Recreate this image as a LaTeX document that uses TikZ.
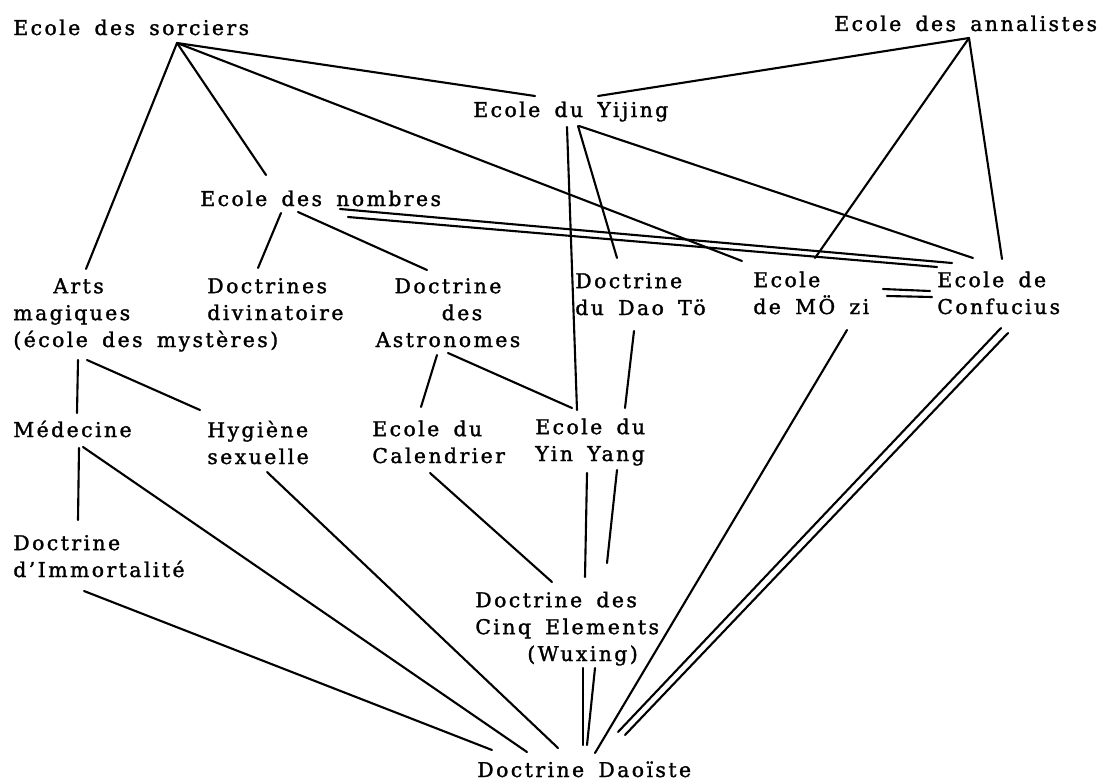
\documentclass[tikz,border=0pt]{standalone}
\usepackage{fontspec}
\setmainfont{DejaVu Serif}[LetterSpace=12, WordSpace=1.6, FakeBold=1.5]
\tikzset{
  school/.style={anchor=base west, inner sep=0pt, align=left, font=\fontsize{11.6}{15.3}\selectfont},
  link/.style={line width=1.2pt, line cap=round},
}
\begin{document}
\begin{tikzpicture}[x=0.02cm,y=-0.02cm]
\useasboundingbox (0,0) rectangle (1098,781);
% the schools and doctrines (placed at the baseline of their last line)
\node[school] (sorciers) at (13,35) {Ecole des sorciers};
\node[school] (annalistes) at (834,31) {Ecole des annalistes};
\node[school] (yijing) at (473,117) {Ecole du Yijing};
\node[school] (nombres) at (200,206) {Ecole des nombres};
\node[school] (arts) at (13,347) {\hspace*{0.8cm}Arts\\magiques\\(école des mystères)};
\node[school] (divin) at (207,320) {Doctrines\\divinatoire};
\node[school, anchor=base, align=center] (astro) at (448,347) {Doctrine\\\hspace*{0.56cm}des\\Astronomes};
\node[school] (daote) at (575,315) {Doctrine\\du Dao Tö};
\node[school] (mozi) at (753,314) {Ecole\\de MÖ zi};
\node[school] (confucius) at (937,314) {Ecole de\\Confucius};
\node[school] (medecine) at (13,437) {Médecine};
\node[school] (hygiene) at (207,464) {Hygiène\\sexuelle};
\node[school] (calendrier) at (372,463) {Ecole du\\Calendrier};
\node[school] (yinyang) at (535,461) {Ecole du\\Yin Yang};
\node[school] (immortel) at (13,577) {Doctrine\\d'Immortalité};
\node[school] (wuxing) at (475,661) {Doctrine des\\Cinq Elements\\\hspace*{1.04cm}(Wuxing)};
\node[school] (daoiste) at (477,777) {Doctrine Daoïste};

% sorciers
\coordinate (sorciers-s) at ([shift={(164,8)}]sorciers.base west);
\draw[link] (sorciers-s) -- ([shift={(73,-78)}]arts.base west);
\draw[link] (sorciers-s) -- ([shift={(66,-31)}]nombres.base west);
\draw[link] (sorciers-s) -- ([shift={(62,-21)}]yijing.base west);
\draw[link] (sorciers-s) -- ([shift={(-11,-53)}]mozi.base west);
% annalistes
\coordinate (annalistes-s) at ([shift={(135,7)}]annalistes.base west);
\draw[link] (annalistes-s) -- ([shift={(125,-21)}]yijing.base west);
\draw[link] (annalistes-s) -- ([shift={(62,-56)}]mozi.base west);
\draw[link] (annalistes-s) -- ([shift={(65,-55)}]confucius.base west);
% Yijing
\draw[link] ([shift={(94,10)}]yijing.base west) -- ([shift={(42,-51)}]yinyang.base west);
\draw[link] ([shift={(105,9)}]yijing.base west) -- ([shift={(42,-57)}]daote.base west);
\draw[link] ([shift={(106,9)}]yijing.base west) -- ([shift={(36,-56)}]confucius.base west);
% nombres
\draw[link] ([shift={(81,7)}]nombres.base west) -- ([shift={(51,-52)}]divin.base west);
\draw[link] ([shift={(98,6)}]nombres.base west) -- ([shift={(-21,-77)}]astro.base);
\draw[link] ([shift={(140,3)}]nombres.base west) -- ([shift={(15,-51)}]confucius.base west);
\draw[link] ([shift={(148,11)}]nombres.base west) -- ([shift={(0,-47)}]confucius.base west);
% Mo zi = Confucius
\draw[link] ([shift={(130,-25)}]mozi.base west) -- ([shift={(-7,-23)}]confucius.base west);
\draw[link] ([shift={(134,-18)}]mozi.base west) -- ([shift={(-5,-17)}]confucius.base west);
% arts magiques
\draw[link] ([shift={(65,13)}]arts.base west) -- ([shift={(64,-24)}]medecine.base west);
\draw[link] ([shift={(74,13)}]arts.base west) -- ([shift={(-7,-54)}]hygiene.base west);
% astronomes, Dao To
\draw[link] ([shift={(-11,8)}]astro.base) -- ([shift={(49,-56)}]calendrier.base west);
\draw[link] ([shift={(0,6)}]astro.base) -- ([shift={(37,-53)}]yinyang.base west);
\draw[link] ([shift={(59,16)}]daote.base west) -- ([shift={(90,-53)}]yinyang.base west);
% towards the five elements
\draw[link] ([shift={(58,10)}]calendrier.base west) -- ([shift={(77,-79)}]wuxing.base west);
\draw[link] ([shift={(52,12)}]yinyang.base west) -- ([shift={(110,-84)}]wuxing.base west);
\draw[link] ([shift={(82,9)}]yinyang.base west) -- ([shift={(132,-98)}]wuxing.base west);
% medecine
\draw[link] ([shift={(66,11)}]medecine.base west) -- ([shift={(65,-57)}]immortel.base west);
% towards the Daoist doctrine
\draw[link] ([shift={(71,14)}]immortel.base west) -- ([shift={(15,-27)}]daoiste.base west);
\draw[link] ([shift={(70,10)}]medecine.base west) -- ([shift={(50,-25)}]daoiste.base west);
\draw[link] ([shift={(60,8)}]hygiene.base west) -- ([shift={(81,-29)}]daoiste.base west);
\draw[link] ([shift={(108,7)}]wuxing.base west) -- ([shift={(106,-32)}]daoiste.base west);
\draw[link] ([shift={(120,7)}]wuxing.base west) -- ([shift={(110,-32)}]daoiste.base west);
\draw[link] ([shift={(94,16)}]mozi.base west) -- ([shift={(118,-24)}]daoiste.base west);
\draw[link] ([shift={(64,14)}]confucius.base west) -- ([shift={(141,-45)}]daoiste.base west);
\draw[link] ([shift={(71,19)}]confucius.base west) -- ([shift={(148,-42)}]daoiste.base west);
\end{tikzpicture}
\end{document}
